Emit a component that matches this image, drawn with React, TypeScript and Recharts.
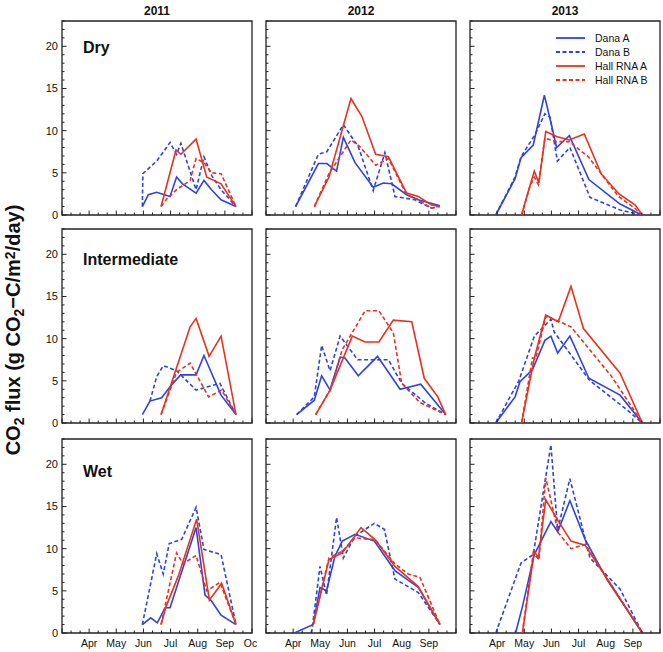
import React from "react"
import { LineChart, Line, XAxis, YAxis, ReferenceArea, Legend } from "recharts"

// x = month number + fraction of the month (6.5 = mid June), y = g CO2-C/m2/day
type Pt = [number, number]

// Dry
const dryDanaA11: Pt[] = [[5.96, 1.0], [6.18, 2.4], [6.49, 2.7], [6.98, 2.2], [7.22, 4.5], [7.44, 3.7], [7.94, 2.6], [8.23, 4.1], [8.51, 3.0], [8.86, 1.8], [9.41, 1.0]]
const dryDanaB11: Pt[] = [[5.96, 1.0], [5.98, 4.9], [6.49, 6.4], [6.98, 8.6], [7.22, 7.2], [7.38, 8.5], [7.94, 3.0], [8.23, 6.9], [8.51, 4.7], [8.86, 3.0], [9.41, 1.0]]
const dryHallA11: Pt[] = [[6.65, 1.0], [7.2, 7.7], [7.38, 7.2], [7.94, 9.0], [8.33, 4.5], [8.86, 3.7], [9.41, 1.0]]
const dryHallB11: Pt[] = [[6.65, 1.0], [6.86, 1.9], [7.22, 3.0], [7.72, 4.1], [7.94, 6.7], [8.23, 6.2], [8.51, 5.0], [8.86, 4.9], [9.41, 1.0]]

const dryDanaA12: Pt[] = [[4.09, 1.0], [4.93, 6.1], [5.24, 6.1], [5.6, 5.2], [5.85, 9.2], [6.28, 6.2], [6.95, 3.3], [7.32, 3.8], [7.63, 3.7], [8.18, 2.4], [8.61, 1.8], [9.41, 1.1]]
const dryDanaB12: Pt[] = [[4.09, 1.0], [4.93, 7.2], [5.24, 7.5], [5.85, 10.7], [6.4, 8.1], [6.95, 2.9], [7.38, 7.4], [7.75, 2.2], [8.49, 1.8], [9.1, 0.8], [9.41, 1.1]]
const dryHallA12: Pt[] = [[4.78, 1.0], [5.32, 4.5], [6.13, 13.8], [6.53, 11.7], [7.04, 7.2], [7.51, 6.9], [8.18, 2.6], [8.61, 2.2], [9.1, 1.2], [9.41, 1.0]]
const dryHallB12: Pt[] = [[4.78, 1.0], [5.32, 4.9], [6.13, 8.9], [6.46, 8.1], [7.04, 5.9], [7.51, 6.7], [8.18, 2.4], [8.61, 1.8], [9.1, 0.8], [9.41, 1.0]]

const dryDanaA13: Pt[] = [[3.95, 0], [4.66, 4.3], [4.88, 6.8], [5.33, 8.3], [5.74, 14.2], [6.03, 10.3], [6.19, 8.0], [6.66, 9.4], [7.38, 4.2], [8.53, 1.3], [9.33, 0]]
const dryDanaB13: Pt[] = [[3.95, 0], [4.66, 4.5], [4.88, 6.9], [5.39, 9.5], [5.76, 12.0], [5.95, 11.6], [6.22, 6.4], [6.68, 8.0], [7.42, 2.1], [8.53, 0.6], [9.33, 0]]
const dryHallA13: Pt[] = [[4.9, 0], [5.21, 3.5], [5.37, 5.2], [5.54, 3.8], [5.79, 9.9], [6.19, 9.3], [6.66, 8.9], [7.21, 9.6], [7.83, 4.9], [8.49, 2.5], [9.08, 1.2], [9.35, 0]]
const dryHallB13: Pt[] = [[4.9, 0], [5.21, 3.4], [5.37, 4.5], [5.52, 3.6], [5.76, 9.1], [6.19, 8.7], [6.66, 8.7], [7.36, 6.9], [8.47, 2.2], [9.07, 0.8], [9.35, 0]]

// Intermediate
const intDanaA11: Pt[] = [[5.96, 1.0], [6.24, 2.6], [6.67, 3.0], [6.98, 4.3], [7.37, 5.7], [7.94, 5.7], [8.23, 8.0], [8.86, 3.3], [9.41, 1.0]]
const intDanaB11: Pt[] = [[6.24, 2.6], [6.49, 5.5], [6.73, 6.8], [7.22, 6.2], [7.94, 3.9], [8.82, 4.7], [9.41, 1.0]]
const intHallA11: Pt[] = [[6.65, 1.0], [7.72, 11.4], [7.94, 12.4], [8.42, 7.9], [8.86, 10.3], [9.41, 1.0]]
const intHallB11: Pt[] = [[6.65, 1.0], [7.22, 6.0], [7.72, 7.1], [8.4, 3.1], [8.88, 3.9], [9.41, 1.0]]

const intDanaA12: Pt[] = [[4.13, 1.0], [4.78, 2.7], [5.05, 5.6], [5.36, 3.9], [5.73, 7.8], [5.91, 7.7], [6.4, 5.6], [7.11, 7.9], [7.94, 4.0], [8.7, 4.6], [9.62, 1.0]]
const intDanaB12: Pt[] = [[4.13, 1.0], [4.78, 3.1], [5.05, 9.2], [5.36, 6.2], [5.73, 10.3], [6.38, 7.5], [7.51, 7.5], [8.0, 4.7], [8.86, 2.4], [9.62, 1.0]]
const intHallA12: Pt[] = [[4.83, 1.0], [5.36, 3.9], [6.18, 10.3], [6.65, 9.6], [7.16, 9.6], [7.69, 12.2], [8.37, 12.0], [8.83, 5.3], [9.33, 3.1], [9.62, 1.0]]
const intHallB12: Pt[] = [[4.83, 1.0], [5.36, 3.9], [5.81, 8.7], [6.65, 13.3], [7.16, 13.3], [7.69, 10.7], [8.0, 4.7], [8.68, 2.4], [9.62, 1.0]]

const intDanaA13: Pt[] = [[3.95, 0], [4.66, 3.1], [4.84, 4.9], [5.3, 6.3], [5.76, 9.8], [5.98, 10.3], [6.23, 8.3], [6.68, 10.3], [7.38, 5.3], [8.53, 3.3], [9.35, 0]]
const intDanaB13: Pt[] = [[3.95, 0], [4.8, 5.0], [5.37, 10.3], [5.98, 12.3], [6.1, 10.8], [7.42, 5.0], [8.77, 1.6], [9.35, 0]]
const intHallA13: Pt[] = [[4.9, 0], [5.37, 7.7], [5.79, 12.8], [6.25, 12.0], [6.72, 16.2], [7.18, 11.2], [8.53, 5.9], [9.35, 0]]
const intHallB13: Pt[] = [[4.9, 0], [5.3, 7.7], [5.42, 7.6], [5.79, 12.6], [6.25, 12.1], [6.72, 11.4], [8.22, 5.5], [9.35, 0]]

// Wet
const wetDanaA11: Pt[] = [[5.96, 1.0], [6.27, 1.8], [6.51, 1.2], [6.8, 3.0], [6.98, 3.0], [7.94, 12.5], [8.27, 4.5], [8.51, 3.8], [8.86, 2.1], [9.41, 1.0]]
const wetDanaB11: Pt[] = [[5.96, 1.0], [6.49, 9.4], [6.73, 7.0], [6.95, 10.6], [7.41, 11.1], [7.94, 14.9], [8.23, 9.9], [8.86, 9.3], [9.41, 1.0]]
const wetHallA11: Pt[] = [[6.65, 1.0], [6.83, 3.1], [7.29, 6.8], [7.96, 13.5], [8.43, 3.9], [8.88, 5.9], [9.41, 1.0]]
const wetHallB11: Pt[] = [[6.65, 1.0], [7.22, 9.5], [7.46, 8.2], [7.94, 9.2], [8.33, 5.0], [8.82, 6.0], [9.41, 1.0]]

const wetDanaA12: Pt[] = [[4.04, 0], [4.74, 1.0], [4.99, 5.4], [5.23, 5.0], [5.54, 9.1], [5.81, 10.9], [6.28, 11.7], [6.99, 10.9], [7.75, 7.4], [8.61, 5.4], [9.41, 1.0]]
const wetDanaB12: Pt[] = [[4.68, 0], [4.99, 7.9], [5.23, 4.5], [5.6, 13.7], [5.85, 8.9], [6.28, 11.5], [6.99, 13.0], [7.36, 12.3], [7.75, 6.4], [8.61, 4.8], [9.41, 1.0]]
const wetHallA12: Pt[] = [[4.74, 1.0], [5.32, 8.7], [5.81, 9.5], [6.5, 12.5], [7.01, 11.1], [7.75, 7.9], [8.61, 5.5], [9.41, 1.0]]
const wetHallB12: Pt[] = [[4.74, 1.0], [5.32, 8.9], [5.81, 9.7], [6.28, 11.3], [6.77, 11.1], [7.01, 11.1], [7.75, 8.2], [8.24, 7.0], [8.67, 6.6], [9.41, 1.0]]

const wetDanaA13: Pt[] = [[4.68, 0], [4.93, 3.1], [5.37, 9.3], [5.98, 13.2], [6.23, 12.0], [6.68, 15.7], [7.24, 11.1], [8.07, 6.2], [9.35, 0]]
const wetDanaB13: Pt[] = [[3.95, 0], [4.88, 8.3], [5.33, 9.3], [5.98, 22.3], [6.23, 12.2], [6.68, 18.3], [7.42, 8.9], [8.53, 5.2], [9.35, 0]]
const wetHallA13: Pt[] = [[4.93, 0], [5.37, 9.7], [5.52, 8.9], [5.79, 15.8], [6.25, 13.3], [6.72, 10.9], [7.24, 10.4], [8.22, 5.6], [9.35, 0]]
const wetHallB13: Pt[] = [[4.93, 0], [5.33, 9.5], [5.54, 8.7], [5.79, 18.4], [6.25, 11.9], [6.72, 10.0], [7.24, 10.5], [9.35, 0]]

const years = ["2011", "2012", "2013"]
const moisture = ["Dry", "Intermediate", "Wet"]
const seriesNames = ["Dana A", "Dana B", "Hall RNA A", "Hall RNA B"]
const monthNames = ["Apr", "May", "Jun", "Jul", "Aug", "Sep", "Oct"]

const panels: Pt[][][][] = [
  [
    [dryDanaA11, dryDanaB11, dryHallA11, dryHallB11],
    [dryDanaA12, dryDanaB12, dryHallA12, dryHallB12],
    [dryDanaA13, dryDanaB13, dryHallA13, dryHallB13],
  ],
  [
    [intDanaA11, intDanaB11, intHallA11, intHallB11],
    [intDanaA12, intDanaB12, intHallA12, intHallB12],
    [intDanaA13, intDanaB13, intHallA13, intHallB13],
  ],
  [
    [wetDanaA11, wetDanaB11, wetHallA11, wetHallB11],
    [wetDanaA12, wetDanaB12, wetHallA12, wetHallB12],
    [wetDanaA13, wetDanaB13, wetHallA13, wetHallB13],
  ],
]

const BLUE = "#2f43e0"
const RED = "#e8321f"
const DASH = "4 2.5"
const seriesStyle = [
  { color: BLUE, dash: undefined },
  { color: BLUE, dash: DASH },
  { color: RED, dash: undefined },
  { color: RED, dash: DASH },
]

const FONT = "'Liberation Sans', Arial, Helvetica, sans-serif"
const INK = "#222"

// plot box geometry (axes get 1px so recharts still draws their ticks)
const PLOT_W = 190
const PLOT_H = 194
const M = { top: 4, right: 5, bottom: 21, left: 31 }
const colLeft = [62, 266, 470]
const rowTop = [21, 229, 439]

// minor ticks every third of a month, every 1 unit on y
const xTicks: number[] = []
for (let i = 0; i <= 21; i++) xTicks.push(3 + i / 3)
const yTicks: number[] = []
for (let i = 0; i <= 23; i++) yTicks.push(i)

const toRows = (pts: Pt[]) => pts.map(([m, v]) => ({ m, v }))

function XTick(props: any) {
  const { x, y, payload, showLabels, showOct } = props
  const v = payload.value
  const major = Math.abs(v - Math.round(v)) < 0.01
  const idx = Math.round(v) - 4
  const label = major && showLabels && idx >= 0 && (idx < 6 || showOct) ? monthNames[idx] : null
  return (
    <g>
      <line x1={x} x2={x} y1={y} y2={y - (major ? 4.5 : 2.5)} stroke={INK} strokeWidth={1} />
      {label && (
        <text x={x} y={y + 14} textAnchor="middle" fontSize={10.5} fill="#111">
          {label}
        </text>
      )}
    </g>
  )
}

function YTick(props: any) {
  const { x, y, payload, showLabels } = props
  const v = payload.value
  const major = v % 5 === 0
  return (
    <g>
      <line x1={x} x2={x + (major ? 4.5 : 2.5)} y1={y} y2={y} stroke={INK} strokeWidth={1} />
      {major && showLabels && (
        <text x={x - 4} y={y + 4} textAnchor="end" fontSize={11} fill="#111">
          {v}
        </text>
      )}
    </g>
  )
}

function LegendBox(props: any) {
  const payload = props.payload ?? []
  return (
    <div style={{ fontFamily: FONT, fontSize: 10.5, color: "#111" }}>
      {payload.map((e: any, i: number) => {
        const s = seriesStyle[seriesNames.indexOf(e.value)] ?? seriesStyle[i]
        return (
          <div key={i} style={{ display: "flex", alignItems: "center", height: 14, whiteSpace: "nowrap" }}>
            <svg width={29} height={4}>
              <line x1={0} x2={29} y1={2} y2={2} stroke={s.color} strokeWidth={1.8} strokeDasharray={s.dash} />
            </svg>
            <span style={{ marginLeft: 10 }}>{e.value}</span>
          </div>
        )
      })}
    </div>
  )
}

function Panel({ row, col }: { row: number; col: number }) {
  const lines = panels[row][col]
  return (
    <div style={{ position: "absolute", left: colLeft[col] - M.left - 1, top: rowTop[row] - M.top }}>
      <LineChart width={PLOT_W + M.left + 1 + M.right} height={PLOT_H + M.top + M.bottom + 1} margin={M}>
        <XAxis
          type="number"
          dataKey="m"
          domain={[3, 10]}
          allowDataOverflow
          ticks={xTicks}
          interval={0}
          height={1}
          tickSize={0}
          tickMargin={0}
          axisLine={false}
          tickLine={false}
          tick={(p: any) => <XTick {...p} showLabels={row === 2} showOct={col === 0} />}
        />
        <YAxis
          type="number"
          domain={[0, 23]}
          allowDataOverflow
          ticks={yTicks}
          interval={0}
          width={1}
          tickSize={0}
          tickMargin={0}
          axisLine={false}
          tickLine={false}
          tick={(p: any) => <YTick {...p} showLabels={col === 0} />}
        />
        <ReferenceArea x1={3} x2={10} y1={0} y2={23} fill="none" stroke={INK} strokeWidth={1.3} ifOverflow="visible" />
        {lines.map((pts, i) => (
          <Line
            key={i}
            data={toRows(pts)}
            dataKey="v"
            name={seriesNames[i]}
            type="linear"
            stroke={seriesStyle[i].color}
            strokeDasharray={seriesStyle[i].dash}
            strokeWidth={1.6}
            dot={false}
            activeDot={false}
            isAnimationActive={false}
          />
        ))}
        {row === 0 && col === 2 && (
          <Legend
            layout="vertical"
            align="center"
            verticalAlign="middle"
            content={<LegendBox />}
            wrapperStyle={{ left: 118, top: 14, width: "auto", height: "auto" }}
          />
        )}
      </LineChart>
    </div>
  )
}

export default function App() {
  return (
    <div style={{ position: "absolute", left: 0, top: 0, width: 663, height: 652, background: "#fff", fontFamily: FONT }}>
      <svg width={663} height={652} style={{ position: "absolute", left: 0, top: 0 }}>
        {years.map((y, c) => (
          <text key={y} x={colLeft[c] + PLOT_W / 2} y={14.5} textAnchor="middle" fontSize={12} fontWeight="bold" fill="#111">
            {y}
          </text>
        ))}
        {moisture.map((m, r) => (
          <text key={m} x={83} y={[52.5, 265, 477][r]} fontSize={16} fontWeight="bold" fill="#111">
            {m}
          </text>
        ))}
        <text transform="translate(20,330) rotate(-90)" textAnchor="middle" fontSize={20} fontWeight="bold" fill="#111">
          CO<tspan dy={4} fontSize={14}>2</tspan>
          <tspan dy={-4}> flux (g CO</tspan>
          <tspan dy={4} fontSize={14}>2</tspan>
          <tspan dy={-4}>−C/m</tspan>
          <tspan dy={-5.5} fontSize={14}>2</tspan>
          <tspan dy={5.5}>/day)</tspan>
        </text>
      </svg>
      {[0, 1, 2].map((r) => [0, 1, 2].map((c) => <Panel key={`${r}-${c}`} row={r} col={c} />))}
    </div>
  )
}
